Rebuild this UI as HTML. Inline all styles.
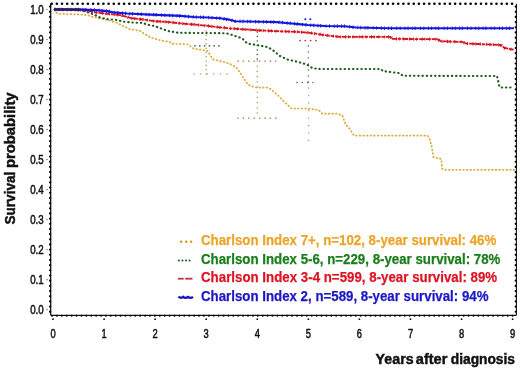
<!DOCTYPE html>
<html><head><meta charset="utf-8"><style>
html,body{margin:0;padding:0;background:#fff;}
body{width:520px;height:370px;overflow:hidden;}
svg{display:block;filter:blur(0.4px);}
.tk{font-family:"Liberation Sans",sans-serif;font-size:12px;font-weight:normal;fill:#111;stroke:#111;stroke-width:0.5px;}
.lg{font-family:"Liberation Sans",sans-serif;font-size:14.2px;font-weight:bold;}
.ax{font-family:"Liberation Sans",sans-serif;font-size:14.3px;font-weight:bold;fill:#111;stroke:#111;stroke-width:0.45px;}
</style></head><body>
<svg width="520" height="370" viewBox="0 0 520 370">
<rect width="520" height="370" fill="#fff"/>
<circle cx="51.70" cy="3.80" r="1.3" fill="#000"/><circle cx="56.87" cy="3.80" r="1.3" fill="#000"/><circle cx="62.04" cy="3.80" r="1.3" fill="#000"/><circle cx="67.22" cy="3.80" r="1.3" fill="#000"/><circle cx="72.39" cy="3.80" r="1.3" fill="#000"/><circle cx="77.56" cy="3.80" r="1.3" fill="#000"/><circle cx="82.73" cy="3.80" r="1.3" fill="#000"/><circle cx="87.90" cy="3.80" r="1.3" fill="#000"/><circle cx="93.08" cy="3.80" r="1.3" fill="#000"/><circle cx="98.25" cy="3.80" r="1.3" fill="#000"/><circle cx="103.42" cy="3.80" r="1.3" fill="#000"/><circle cx="108.59" cy="3.80" r="1.3" fill="#000"/><circle cx="113.76" cy="3.80" r="1.3" fill="#000"/><circle cx="118.94" cy="3.80" r="1.3" fill="#000"/><circle cx="124.11" cy="3.80" r="1.3" fill="#000"/><circle cx="129.28" cy="3.80" r="1.3" fill="#000"/><circle cx="134.45" cy="3.80" r="1.3" fill="#000"/><circle cx="139.62" cy="3.80" r="1.3" fill="#000"/><circle cx="144.80" cy="3.80" r="1.3" fill="#000"/><circle cx="149.97" cy="3.80" r="1.3" fill="#000"/><circle cx="155.14" cy="3.80" r="1.3" fill="#000"/><circle cx="160.31" cy="3.80" r="1.3" fill="#000"/><circle cx="165.48" cy="3.80" r="1.3" fill="#000"/><circle cx="170.66" cy="3.80" r="1.3" fill="#000"/><circle cx="175.83" cy="3.80" r="1.3" fill="#000"/><circle cx="181.00" cy="3.80" r="1.3" fill="#000"/><circle cx="186.17" cy="3.80" r="1.3" fill="#000"/><circle cx="191.34" cy="3.80" r="1.3" fill="#000"/><circle cx="196.52" cy="3.80" r="1.3" fill="#000"/><circle cx="201.69" cy="3.80" r="1.3" fill="#000"/><circle cx="206.86" cy="3.80" r="1.3" fill="#000"/><circle cx="212.03" cy="3.80" r="1.3" fill="#000"/><circle cx="217.20" cy="3.80" r="1.3" fill="#000"/><circle cx="222.38" cy="3.80" r="1.3" fill="#000"/><circle cx="227.55" cy="3.80" r="1.3" fill="#000"/><circle cx="232.72" cy="3.80" r="1.3" fill="#000"/><circle cx="237.89" cy="3.80" r="1.3" fill="#000"/><circle cx="243.06" cy="3.80" r="1.3" fill="#000"/><circle cx="248.24" cy="3.80" r="1.3" fill="#000"/><circle cx="253.41" cy="3.80" r="1.3" fill="#000"/><circle cx="258.58" cy="3.80" r="1.3" fill="#000"/><circle cx="263.75" cy="3.80" r="1.3" fill="#000"/><circle cx="268.92" cy="3.80" r="1.3" fill="#000"/><circle cx="274.10" cy="3.80" r="1.3" fill="#000"/><circle cx="279.27" cy="3.80" r="1.3" fill="#000"/><circle cx="284.44" cy="3.80" r="1.3" fill="#000"/><circle cx="289.61" cy="3.80" r="1.3" fill="#000"/><circle cx="294.78" cy="3.80" r="1.3" fill="#000"/><circle cx="299.96" cy="3.80" r="1.3" fill="#000"/><circle cx="305.13" cy="3.80" r="1.3" fill="#000"/><circle cx="310.30" cy="3.80" r="1.3" fill="#000"/><circle cx="315.47" cy="3.80" r="1.3" fill="#000"/><circle cx="320.64" cy="3.80" r="1.3" fill="#000"/><circle cx="325.82" cy="3.80" r="1.3" fill="#000"/><circle cx="330.99" cy="3.80" r="1.3" fill="#000"/><circle cx="336.16" cy="3.80" r="1.3" fill="#000"/><circle cx="341.33" cy="3.80" r="1.3" fill="#000"/><circle cx="346.50" cy="3.80" r="1.3" fill="#000"/><circle cx="351.68" cy="3.80" r="1.3" fill="#000"/><circle cx="356.85" cy="3.80" r="1.3" fill="#000"/><circle cx="362.02" cy="3.80" r="1.3" fill="#000"/><circle cx="367.19" cy="3.80" r="1.3" fill="#000"/><circle cx="372.36" cy="3.80" r="1.3" fill="#000"/><circle cx="377.54" cy="3.80" r="1.3" fill="#000"/><circle cx="382.71" cy="3.80" r="1.3" fill="#000"/><circle cx="387.88" cy="3.80" r="1.3" fill="#000"/><circle cx="393.05" cy="3.80" r="1.3" fill="#000"/><circle cx="398.22" cy="3.80" r="1.3" fill="#000"/><circle cx="403.40" cy="3.80" r="1.3" fill="#000"/><circle cx="408.57" cy="3.80" r="1.3" fill="#000"/><circle cx="413.74" cy="3.80" r="1.3" fill="#000"/><circle cx="418.91" cy="3.80" r="1.3" fill="#000"/><circle cx="424.08" cy="3.80" r="1.3" fill="#000"/><circle cx="429.26" cy="3.80" r="1.3" fill="#000"/><circle cx="434.43" cy="3.80" r="1.3" fill="#000"/><circle cx="439.60" cy="3.80" r="1.3" fill="#000"/><circle cx="444.77" cy="3.80" r="1.3" fill="#000"/><circle cx="449.94" cy="3.80" r="1.3" fill="#000"/><circle cx="455.12" cy="3.80" r="1.3" fill="#000"/><circle cx="460.29" cy="3.80" r="1.3" fill="#000"/><circle cx="465.46" cy="3.80" r="1.3" fill="#000"/><circle cx="470.63" cy="3.80" r="1.3" fill="#000"/><circle cx="475.80" cy="3.80" r="1.3" fill="#000"/><circle cx="480.98" cy="3.80" r="1.3" fill="#000"/><circle cx="486.15" cy="3.80" r="1.3" fill="#000"/><circle cx="491.32" cy="3.80" r="1.3" fill="#000"/><circle cx="496.49" cy="3.80" r="1.3" fill="#000"/><circle cx="501.66" cy="3.80" r="1.3" fill="#000"/><circle cx="506.84" cy="3.80" r="1.3" fill="#000"/><circle cx="512.01" cy="3.80" r="1.3" fill="#000"/><line x1="50.7" y1="3.8" x2="50.7" y2="315.3" stroke="#000" stroke-width="1.2"/><circle cx="50.10" cy="6.60" r="1.15" fill="#000"/><circle cx="50.10" cy="11.77" r="1.15" fill="#000"/><circle cx="50.10" cy="16.94" r="1.15" fill="#000"/><circle cx="50.10" cy="22.12" r="1.15" fill="#000"/><circle cx="50.10" cy="27.29" r="1.15" fill="#000"/><circle cx="50.10" cy="32.46" r="1.15" fill="#000"/><circle cx="50.10" cy="37.63" r="1.15" fill="#000"/><circle cx="50.10" cy="42.80" r="1.15" fill="#000"/><circle cx="50.10" cy="47.98" r="1.15" fill="#000"/><circle cx="50.10" cy="53.15" r="1.15" fill="#000"/><circle cx="50.10" cy="58.32" r="1.15" fill="#000"/><circle cx="50.10" cy="63.49" r="1.15" fill="#000"/><circle cx="50.10" cy="68.66" r="1.15" fill="#000"/><circle cx="50.10" cy="73.84" r="1.15" fill="#000"/><circle cx="50.10" cy="79.01" r="1.15" fill="#000"/><circle cx="50.10" cy="84.18" r="1.15" fill="#000"/><circle cx="50.10" cy="89.35" r="1.15" fill="#000"/><circle cx="50.10" cy="94.52" r="1.15" fill="#000"/><circle cx="50.10" cy="99.70" r="1.15" fill="#000"/><circle cx="50.10" cy="104.87" r="1.15" fill="#000"/><circle cx="50.10" cy="110.04" r="1.15" fill="#000"/><circle cx="50.10" cy="115.21" r="1.15" fill="#000"/><circle cx="50.10" cy="120.38" r="1.15" fill="#000"/><circle cx="50.10" cy="125.56" r="1.15" fill="#000"/><circle cx="50.10" cy="130.73" r="1.15" fill="#000"/><circle cx="50.10" cy="135.90" r="1.15" fill="#000"/><circle cx="50.10" cy="141.07" r="1.15" fill="#000"/><circle cx="50.10" cy="146.24" r="1.15" fill="#000"/><circle cx="50.10" cy="151.42" r="1.15" fill="#000"/><circle cx="50.10" cy="156.59" r="1.15" fill="#000"/><circle cx="50.10" cy="161.76" r="1.15" fill="#000"/><circle cx="50.10" cy="166.93" r="1.15" fill="#000"/><circle cx="50.10" cy="172.10" r="1.15" fill="#000"/><circle cx="50.10" cy="177.28" r="1.15" fill="#000"/><circle cx="50.10" cy="182.45" r="1.15" fill="#000"/><circle cx="50.10" cy="187.62" r="1.15" fill="#000"/><circle cx="50.10" cy="192.79" r="1.15" fill="#000"/><circle cx="50.10" cy="197.96" r="1.15" fill="#000"/><circle cx="50.10" cy="203.14" r="1.15" fill="#000"/><circle cx="50.10" cy="208.31" r="1.15" fill="#000"/><circle cx="50.10" cy="213.48" r="1.15" fill="#000"/><circle cx="50.10" cy="218.65" r="1.15" fill="#000"/><circle cx="50.10" cy="223.82" r="1.15" fill="#000"/><circle cx="50.10" cy="229.00" r="1.15" fill="#000"/><circle cx="50.10" cy="234.17" r="1.15" fill="#000"/><circle cx="50.10" cy="239.34" r="1.15" fill="#000"/><circle cx="50.10" cy="244.51" r="1.15" fill="#000"/><circle cx="50.10" cy="249.68" r="1.15" fill="#000"/><circle cx="50.10" cy="254.86" r="1.15" fill="#000"/><circle cx="50.10" cy="260.03" r="1.15" fill="#000"/><circle cx="50.10" cy="265.20" r="1.15" fill="#000"/><circle cx="50.10" cy="270.37" r="1.15" fill="#000"/><circle cx="50.10" cy="275.54" r="1.15" fill="#000"/><circle cx="50.10" cy="280.72" r="1.15" fill="#000"/><circle cx="50.10" cy="285.89" r="1.15" fill="#000"/><circle cx="50.10" cy="291.06" r="1.15" fill="#000"/><circle cx="50.10" cy="296.23" r="1.15" fill="#000"/><circle cx="50.10" cy="301.40" r="1.15" fill="#000"/><circle cx="50.10" cy="306.58" r="1.15" fill="#000"/><circle cx="50.10" cy="311.75" r="1.15" fill="#000"/><line x1="516.4" y1="3.8" x2="516.4" y2="315.3" stroke="#111" stroke-width="1.1"/><circle cx="515.70" cy="6.60" r="1.1" fill="#000"/><circle cx="515.70" cy="11.77" r="1.1" fill="#000"/><circle cx="515.70" cy="16.94" r="1.1" fill="#000"/><circle cx="515.70" cy="22.12" r="1.1" fill="#000"/><circle cx="515.70" cy="27.29" r="1.1" fill="#000"/><circle cx="515.70" cy="32.46" r="1.1" fill="#000"/><circle cx="515.70" cy="37.63" r="1.1" fill="#000"/><circle cx="515.70" cy="42.80" r="1.1" fill="#000"/><circle cx="515.70" cy="47.98" r="1.1" fill="#000"/><circle cx="515.70" cy="53.15" r="1.1" fill="#000"/><circle cx="515.70" cy="58.32" r="1.1" fill="#000"/><circle cx="515.70" cy="63.49" r="1.1" fill="#000"/><circle cx="515.70" cy="68.66" r="1.1" fill="#000"/><circle cx="515.70" cy="73.84" r="1.1" fill="#000"/><circle cx="515.70" cy="79.01" r="1.1" fill="#000"/><circle cx="515.70" cy="84.18" r="1.1" fill="#000"/><circle cx="515.70" cy="89.35" r="1.1" fill="#000"/><circle cx="515.70" cy="94.52" r="1.1" fill="#000"/><circle cx="515.70" cy="99.70" r="1.1" fill="#000"/><circle cx="515.70" cy="104.87" r="1.1" fill="#000"/><circle cx="515.70" cy="110.04" r="1.1" fill="#000"/><circle cx="515.70" cy="115.21" r="1.1" fill="#000"/><circle cx="515.70" cy="120.38" r="1.1" fill="#000"/><circle cx="515.70" cy="125.56" r="1.1" fill="#000"/><circle cx="515.70" cy="130.73" r="1.1" fill="#000"/><circle cx="515.70" cy="135.90" r="1.1" fill="#000"/><circle cx="515.70" cy="141.07" r="1.1" fill="#000"/><circle cx="515.70" cy="146.24" r="1.1" fill="#000"/><circle cx="515.70" cy="151.42" r="1.1" fill="#000"/><circle cx="515.70" cy="156.59" r="1.1" fill="#000"/><circle cx="515.70" cy="161.76" r="1.1" fill="#000"/><circle cx="515.70" cy="166.93" r="1.1" fill="#000"/><circle cx="515.70" cy="172.10" r="1.1" fill="#000"/><circle cx="515.70" cy="177.28" r="1.1" fill="#000"/><circle cx="515.70" cy="182.45" r="1.1" fill="#000"/><circle cx="515.70" cy="187.62" r="1.1" fill="#000"/><circle cx="515.70" cy="192.79" r="1.1" fill="#000"/><circle cx="515.70" cy="197.96" r="1.1" fill="#000"/><circle cx="515.70" cy="203.14" r="1.1" fill="#000"/><circle cx="515.70" cy="208.31" r="1.1" fill="#000"/><circle cx="515.70" cy="213.48" r="1.1" fill="#000"/><circle cx="515.70" cy="218.65" r="1.1" fill="#000"/><circle cx="515.70" cy="223.82" r="1.1" fill="#000"/><circle cx="515.70" cy="229.00" r="1.1" fill="#000"/><circle cx="515.70" cy="234.17" r="1.1" fill="#000"/><circle cx="515.70" cy="239.34" r="1.1" fill="#000"/><circle cx="515.70" cy="244.51" r="1.1" fill="#000"/><circle cx="515.70" cy="249.68" r="1.1" fill="#000"/><circle cx="515.70" cy="254.86" r="1.1" fill="#000"/><circle cx="515.70" cy="260.03" r="1.1" fill="#000"/><circle cx="515.70" cy="265.20" r="1.1" fill="#000"/><circle cx="515.70" cy="270.37" r="1.1" fill="#000"/><circle cx="515.70" cy="275.54" r="1.1" fill="#000"/><circle cx="515.70" cy="280.72" r="1.1" fill="#000"/><circle cx="515.70" cy="285.89" r="1.1" fill="#000"/><circle cx="515.70" cy="291.06" r="1.1" fill="#000"/><circle cx="515.70" cy="296.23" r="1.1" fill="#000"/><circle cx="515.70" cy="301.40" r="1.1" fill="#000"/><circle cx="515.70" cy="306.58" r="1.1" fill="#000"/><circle cx="515.70" cy="311.75" r="1.1" fill="#000"/><line x1="50.7" y1="315.3" x2="516.4" y2="315.3" stroke="#111" stroke-width="1.2"/><circle cx="52.00" cy="315.80" r="1.0" fill="#000"/><circle cx="56.90" cy="315.80" r="1.0" fill="#000"/><circle cx="61.80" cy="315.80" r="1.0" fill="#000"/><circle cx="66.70" cy="315.80" r="1.0" fill="#000"/><circle cx="71.60" cy="315.80" r="1.0" fill="#000"/><circle cx="76.50" cy="315.80" r="1.0" fill="#000"/><circle cx="81.40" cy="315.80" r="1.0" fill="#000"/><circle cx="86.30" cy="315.80" r="1.0" fill="#000"/><circle cx="91.20" cy="315.80" r="1.0" fill="#000"/><circle cx="96.10" cy="315.80" r="1.0" fill="#000"/><circle cx="101.00" cy="315.80" r="1.0" fill="#000"/><circle cx="105.90" cy="315.80" r="1.0" fill="#000"/><circle cx="110.80" cy="315.80" r="1.0" fill="#000"/><circle cx="115.70" cy="315.80" r="1.0" fill="#000"/><circle cx="120.60" cy="315.80" r="1.0" fill="#000"/><circle cx="125.50" cy="315.80" r="1.0" fill="#000"/><circle cx="130.40" cy="315.80" r="1.0" fill="#000"/><circle cx="135.30" cy="315.80" r="1.0" fill="#000"/><circle cx="140.20" cy="315.80" r="1.0" fill="#000"/><circle cx="145.10" cy="315.80" r="1.0" fill="#000"/><circle cx="150.00" cy="315.80" r="1.0" fill="#000"/><circle cx="154.90" cy="315.80" r="1.0" fill="#000"/><circle cx="159.80" cy="315.80" r="1.0" fill="#000"/><circle cx="164.70" cy="315.80" r="1.0" fill="#000"/><circle cx="169.60" cy="315.80" r="1.0" fill="#000"/><circle cx="174.50" cy="315.80" r="1.0" fill="#000"/><circle cx="179.40" cy="315.80" r="1.0" fill="#000"/><circle cx="184.30" cy="315.80" r="1.0" fill="#000"/><circle cx="189.20" cy="315.80" r="1.0" fill="#000"/><circle cx="194.10" cy="315.80" r="1.0" fill="#000"/><circle cx="199.00" cy="315.80" r="1.0" fill="#000"/><circle cx="203.90" cy="315.80" r="1.0" fill="#000"/><circle cx="208.80" cy="315.80" r="1.0" fill="#000"/><circle cx="213.70" cy="315.80" r="1.0" fill="#000"/><circle cx="218.60" cy="315.80" r="1.0" fill="#000"/><circle cx="223.50" cy="315.80" r="1.0" fill="#000"/><circle cx="228.40" cy="315.80" r="1.0" fill="#000"/><circle cx="233.30" cy="315.80" r="1.0" fill="#000"/><circle cx="238.20" cy="315.80" r="1.0" fill="#000"/><circle cx="243.10" cy="315.80" r="1.0" fill="#000"/><circle cx="248.00" cy="315.80" r="1.0" fill="#000"/><circle cx="252.90" cy="315.80" r="1.0" fill="#000"/><circle cx="257.80" cy="315.80" r="1.0" fill="#000"/><circle cx="262.70" cy="315.80" r="1.0" fill="#000"/><circle cx="267.60" cy="315.80" r="1.0" fill="#000"/><circle cx="272.50" cy="315.80" r="1.0" fill="#000"/><circle cx="277.40" cy="315.80" r="1.0" fill="#000"/><circle cx="282.30" cy="315.80" r="1.0" fill="#000"/><circle cx="287.20" cy="315.80" r="1.0" fill="#000"/><circle cx="292.10" cy="315.80" r="1.0" fill="#000"/><circle cx="297.00" cy="315.80" r="1.0" fill="#000"/><circle cx="301.90" cy="315.80" r="1.0" fill="#000"/><circle cx="306.80" cy="315.80" r="1.0" fill="#000"/><circle cx="311.70" cy="315.80" r="1.0" fill="#000"/><circle cx="316.60" cy="315.80" r="1.0" fill="#000"/><circle cx="321.50" cy="315.80" r="1.0" fill="#000"/><circle cx="326.40" cy="315.80" r="1.0" fill="#000"/><circle cx="331.30" cy="315.80" r="1.0" fill="#000"/><circle cx="336.20" cy="315.80" r="1.0" fill="#000"/><circle cx="341.10" cy="315.80" r="1.0" fill="#000"/><circle cx="346.00" cy="315.80" r="1.0" fill="#000"/><circle cx="350.90" cy="315.80" r="1.0" fill="#000"/><circle cx="355.80" cy="315.80" r="1.0" fill="#000"/><circle cx="360.70" cy="315.80" r="1.0" fill="#000"/><circle cx="365.60" cy="315.80" r="1.0" fill="#000"/><circle cx="370.50" cy="315.80" r="1.0" fill="#000"/><circle cx="375.40" cy="315.80" r="1.0" fill="#000"/><circle cx="380.30" cy="315.80" r="1.0" fill="#000"/><circle cx="385.20" cy="315.80" r="1.0" fill="#000"/><circle cx="390.10" cy="315.80" r="1.0" fill="#000"/><circle cx="395.00" cy="315.80" r="1.0" fill="#000"/><circle cx="399.90" cy="315.80" r="1.0" fill="#000"/><circle cx="404.80" cy="315.80" r="1.0" fill="#000"/><circle cx="409.70" cy="315.80" r="1.0" fill="#000"/><circle cx="414.60" cy="315.80" r="1.0" fill="#000"/><circle cx="419.50" cy="315.80" r="1.0" fill="#000"/><circle cx="424.40" cy="315.80" r="1.0" fill="#000"/><circle cx="429.30" cy="315.80" r="1.0" fill="#000"/><circle cx="434.20" cy="315.80" r="1.0" fill="#000"/><circle cx="439.10" cy="315.80" r="1.0" fill="#000"/><circle cx="444.00" cy="315.80" r="1.0" fill="#000"/><circle cx="448.90" cy="315.80" r="1.0" fill="#000"/><circle cx="453.80" cy="315.80" r="1.0" fill="#000"/><circle cx="458.70" cy="315.80" r="1.0" fill="#000"/><circle cx="463.60" cy="315.80" r="1.0" fill="#000"/><circle cx="468.50" cy="315.80" r="1.0" fill="#000"/><circle cx="473.40" cy="315.80" r="1.0" fill="#000"/><circle cx="478.30" cy="315.80" r="1.0" fill="#000"/><circle cx="483.20" cy="315.80" r="1.0" fill="#000"/><circle cx="488.10" cy="315.80" r="1.0" fill="#000"/><circle cx="493.00" cy="315.80" r="1.0" fill="#000"/><circle cx="497.90" cy="315.80" r="1.0" fill="#000"/><circle cx="502.80" cy="315.80" r="1.0" fill="#000"/><circle cx="507.70" cy="315.80" r="1.0" fill="#000"/><circle cx="512.60" cy="315.80" r="1.0" fill="#000"/><circle cx="47.0" cy="9.3" r="0.65" fill="#555"/><text x="30.2" y="13.9" class="tk" textLength="13.5" lengthAdjust="spacingAndGlyphs">1.0</text><circle cx="47.0" cy="39.3" r="0.65" fill="#555"/><text x="30.2" y="43.9" class="tk" textLength="13.5" lengthAdjust="spacingAndGlyphs">0.9</text><circle cx="47.0" cy="69.4" r="0.65" fill="#555"/><text x="30.2" y="74.0" class="tk" textLength="13.5" lengthAdjust="spacingAndGlyphs">0.8</text><circle cx="47.0" cy="99.4" r="0.65" fill="#555"/><text x="30.2" y="104.0" class="tk" textLength="13.5" lengthAdjust="spacingAndGlyphs">0.7</text><circle cx="47.0" cy="129.5" r="0.65" fill="#555"/><text x="30.2" y="134.1" class="tk" textLength="13.5" lengthAdjust="spacingAndGlyphs">0.6</text><circle cx="47.0" cy="159.5" r="0.65" fill="#555"/><text x="30.2" y="164.1" class="tk" textLength="13.5" lengthAdjust="spacingAndGlyphs">0.5</text><circle cx="47.0" cy="189.5" r="0.65" fill="#555"/><text x="30.2" y="194.1" class="tk" textLength="13.5" lengthAdjust="spacingAndGlyphs">0.4</text><circle cx="47.0" cy="219.6" r="0.65" fill="#555"/><text x="30.2" y="224.2" class="tk" textLength="13.5" lengthAdjust="spacingAndGlyphs">0.3</text><circle cx="47.0" cy="249.6" r="0.65" fill="#555"/><text x="30.2" y="254.2" class="tk" textLength="13.5" lengthAdjust="spacingAndGlyphs">0.2</text><circle cx="47.0" cy="279.7" r="0.65" fill="#555"/><text x="30.2" y="284.3" class="tk" textLength="13.5" lengthAdjust="spacingAndGlyphs">0.1</text><circle cx="47.0" cy="309.7" r="0.65" fill="#555"/><text x="30.2" y="314.3" class="tk" textLength="13.5" lengthAdjust="spacingAndGlyphs">0.0</text><text x="50.4" y="337.6" class="tk" textLength="5.2" lengthAdjust="spacingAndGlyphs">0</text><circle cx="53.0" cy="319.2" r="0.9" fill="#111"/><text x="101.5" y="337.6" class="tk" textLength="5.2" lengthAdjust="spacingAndGlyphs">1</text><circle cx="104.1" cy="319.2" r="0.9" fill="#111"/><text x="152.5" y="337.6" class="tk" textLength="5.2" lengthAdjust="spacingAndGlyphs">2</text><circle cx="155.1" cy="319.2" r="0.9" fill="#111"/><text x="203.6" y="337.6" class="tk" textLength="5.2" lengthAdjust="spacingAndGlyphs">3</text><circle cx="206.2" cy="319.2" r="0.9" fill="#111"/><text x="254.7" y="337.6" class="tk" textLength="5.2" lengthAdjust="spacingAndGlyphs">4</text><circle cx="257.3" cy="319.2" r="0.9" fill="#111"/><text x="305.8" y="337.6" class="tk" textLength="5.2" lengthAdjust="spacingAndGlyphs">5</text><circle cx="308.4" cy="319.2" r="0.9" fill="#111"/><text x="356.8" y="337.6" class="tk" textLength="5.2" lengthAdjust="spacingAndGlyphs">6</text><circle cx="359.4" cy="319.2" r="0.9" fill="#111"/><text x="407.9" y="337.6" class="tk" textLength="5.2" lengthAdjust="spacingAndGlyphs">7</text><circle cx="410.5" cy="319.2" r="0.9" fill="#111"/><text x="459.0" y="337.6" class="tk" textLength="5.2" lengthAdjust="spacingAndGlyphs">8</text><circle cx="461.6" cy="319.2" r="0.9" fill="#111"/><text x="510.0" y="337.6" class="tk" textLength="5.2" lengthAdjust="spacingAndGlyphs">9</text><circle cx="512.6" cy="319.2" r="0.9" fill="#111"/><circle cx="206.21" cy="31.00" r="0.8" fill="#b89c62"/><circle cx="206.21" cy="35.30" r="0.8" fill="#b89c62"/><circle cx="206.21" cy="39.60" r="0.8" fill="#b89c62"/><circle cx="206.21" cy="43.90" r="0.8" fill="#b89c62"/><circle cx="206.21" cy="48.20" r="0.8" fill="#b89c62"/><circle cx="206.21" cy="52.50" r="0.8" fill="#b89c62"/><circle cx="206.21" cy="56.80" r="0.8" fill="#b89c62"/><circle cx="206.21" cy="61.10" r="0.8" fill="#b89c62"/><circle cx="206.21" cy="65.40" r="0.8" fill="#b89c62"/><circle cx="206.21" cy="69.70" r="0.8" fill="#b89c62"/><circle cx="206.21" cy="74.00" r="0.8" fill="#b89c62"/><circle cx="195.00" cy="45.80" r="0.85" fill="#3c5a3c"/><circle cx="199.80" cy="45.80" r="0.85" fill="#3c5a3c"/><circle cx="204.60" cy="45.80" r="0.85" fill="#3c5a3c"/><circle cx="209.40" cy="45.80" r="0.85" fill="#3c5a3c"/><circle cx="214.20" cy="45.80" r="0.85" fill="#3c5a3c"/><circle cx="219.00" cy="45.80" r="0.85" fill="#3c5a3c"/><circle cx="194.00" cy="74.00" r="0.8" fill="#b89c62"/><circle cx="200.60" cy="74.00" r="0.8" fill="#b89c62"/><circle cx="207.20" cy="74.00" r="0.8" fill="#b89c62"/><circle cx="213.80" cy="74.00" r="0.8" fill="#b89c62"/><circle cx="220.40" cy="74.00" r="0.8" fill="#b89c62"/><circle cx="227.00" cy="74.00" r="0.8" fill="#b89c62"/><circle cx="257.28" cy="32.00" r="0.8" fill="#3c5a3c"/><circle cx="257.28" cy="36.50" r="0.8" fill="#3c5a3c"/><circle cx="257.28" cy="41.00" r="0.8" fill="#3c5a3c"/><circle cx="257.28" cy="45.50" r="0.8" fill="#3c5a3c"/><circle cx="257.28" cy="50.00" r="0.8" fill="#3c5a3c"/><circle cx="257.28" cy="54.50" r="0.8" fill="#3c5a3c"/><circle cx="257.28" cy="59.00" r="0.8" fill="#3c5a3c"/><circle cx="257.28" cy="61.00" r="0.8" fill="#b89c62"/><circle cx="257.28" cy="66.20" r="0.8" fill="#b89c62"/><circle cx="257.28" cy="71.40" r="0.8" fill="#b89c62"/><circle cx="257.28" cy="76.60" r="0.8" fill="#b89c62"/><circle cx="257.28" cy="81.80" r="0.8" fill="#b89c62"/><circle cx="257.28" cy="87.00" r="0.8" fill="#b89c62"/><circle cx="257.28" cy="92.20" r="0.8" fill="#b89c62"/><circle cx="257.28" cy="97.40" r="0.8" fill="#b89c62"/><circle cx="257.28" cy="102.60" r="0.8" fill="#b89c62"/><circle cx="257.28" cy="107.80" r="0.8" fill="#b89c62"/><circle cx="257.28" cy="113.00" r="0.8" fill="#b89c62"/><circle cx="238.00" cy="61.20" r="0.85" fill="#b89c62"/><circle cx="243.40" cy="61.20" r="0.85" fill="#b89c62"/><circle cx="248.80" cy="61.20" r="0.85" fill="#b89c62"/><circle cx="254.20" cy="61.20" r="0.85" fill="#b89c62"/><circle cx="259.60" cy="61.20" r="0.85" fill="#b89c62"/><circle cx="265.00" cy="61.20" r="0.85" fill="#b89c62"/><circle cx="270.40" cy="61.20" r="0.85" fill="#b89c62"/><circle cx="275.80" cy="61.20" r="0.85" fill="#b89c62"/><circle cx="238.00" cy="118.20" r="0.85" fill="#b89c62"/><circle cx="243.40" cy="118.20" r="0.85" fill="#b89c62"/><circle cx="248.80" cy="118.20" r="0.85" fill="#b89c62"/><circle cx="254.20" cy="118.20" r="0.85" fill="#b89c62"/><circle cx="259.60" cy="118.20" r="0.85" fill="#b89c62"/><circle cx="265.00" cy="118.20" r="0.85" fill="#b89c62"/><circle cx="270.40" cy="118.20" r="0.85" fill="#b89c62"/><circle cx="275.80" cy="118.20" r="0.85" fill="#b89c62"/><circle cx="305.30" cy="19.20" r="1.0" fill="#1616dc"/><circle cx="310.30" cy="19.20" r="1.0" fill="#1616dc"/><circle cx="300.00" cy="40.50" r="0.85" fill="#c02030"/><circle cx="305.30" cy="40.50" r="0.85" fill="#c02030"/><circle cx="310.60" cy="40.50" r="0.85" fill="#c02030"/><circle cx="315.90" cy="40.50" r="0.85" fill="#c02030"/><circle cx="308.35" cy="46.00" r="0.75" fill="#556655"/><circle cx="308.35" cy="52.00" r="0.75" fill="#556655"/><circle cx="308.35" cy="58.00" r="0.75" fill="#556655"/><circle cx="308.35" cy="64.00" r="0.75" fill="#556655"/><circle cx="308.35" cy="70.00" r="0.75" fill="#556655"/><circle cx="308.35" cy="76.00" r="0.75" fill="#556655"/><circle cx="308.35" cy="82.00" r="0.75" fill="#556655"/><circle cx="297.00" cy="82.50" r="0.8" fill="#5a6a5a"/><circle cx="302.30" cy="82.50" r="0.8" fill="#5a6a5a"/><circle cx="307.60" cy="82.50" r="0.8" fill="#5a6a5a"/><circle cx="312.90" cy="82.50" r="0.8" fill="#5a6a5a"/><circle cx="308.65" cy="88.00" r="0.8" fill="#b8a070"/><circle cx="308.65" cy="95.50" r="0.8" fill="#b8a070"/><circle cx="308.65" cy="103.00" r="0.8" fill="#b8a070"/><circle cx="308.65" cy="110.50" r="0.8" fill="#b8a070"/><circle cx="308.65" cy="118.00" r="0.8" fill="#b8a070"/><circle cx="308.65" cy="125.50" r="0.8" fill="#b8a070"/><circle cx="308.65" cy="133.00" r="0.8" fill="#b8a070"/><circle cx="308.65" cy="140.50" r="0.8" fill="#b8a070"/><polyline points="54.5,9.5 57.0,13.0 59.0,13.8 81.0,14.5 88.5,15.4 93.5,17.1 103.8,19.2 106.9,19.8 113.6,21.8 115.4,22.1 123.0,26.0 129.8,29.2 134.8,29.9 140.2,30.9 145.6,34.7 152.1,38.0 161.9,40.7 169.5,41.8 172.0,43.9 188.0,44.3 193.8,48.8 201.5,49.8 207.3,50.8 213.0,59.4 220.8,61.3 228.5,63.3 236.2,67.1 239.6,72.0 247.9,84.6 255.0,87.5 268.7,87.6 277.6,95.0 285.0,102.5 291.5,108.5 305.0,108.5 318.5,109.8 322.3,113.7 337.7,113.7 342.5,115.6 345.4,124.2 349.2,128.1 354.0,135.6 427.7,135.6 429.6,138.8 431.5,145.6 432.5,151.3 433.5,157.2 441.2,159.0 442.1,168.7 445.0,169.8 514.2,169.8" fill="none" stroke="#dcaa3c" stroke-width="1.7" stroke-dasharray="0.7 2.9" stroke-linecap="round"/><polyline points="54.5,9.5 78.8,9.8 88.0,12.4 93.5,14.4 100.0,17.5 107.7,19.2 115.4,19.7 123.0,21.6 134.8,22.7 143.5,22.9 145.6,24.3 154.3,26.0 161.9,28.8 167.3,30.9 173.8,32.0 178.5,32.8 226.0,33.2 231.0,34.6 239.6,37.5 242.3,38.5 247.3,43.5 258.8,45.4 268.5,47.3 274.2,51.2 280.0,56.0 287.7,59.6 297.3,61.7 306.9,64.6 312.7,68.3 320.4,69.0 381.0,69.0 382.7,71.0 399.2,73.1 403.0,75.8 497.0,76.0 498.0,80.0 498.8,84.6 500.0,87.5 511.0,87.5" fill="none" stroke="#1d5c1d" stroke-width="2.1" stroke-dasharray="0.4 3.8" stroke-linecap="round"/><polyline points="54.5,9.5 82.0,9.8 90.4,11.2 93.5,12.2 102.0,13.2 110.0,14.1 120.4,15.1 131.5,18.2 143.0,19.5 154.6,21.2 166.0,21.8 180.0,23.3 194.0,24.5 208.0,25.9 219.6,27.3 229.2,28.3 243.7,29.3 258.0,30.3 277.0,31.2 296.5,31.8 308.0,32.7 315.6,33.7 325.2,35.2 339.7,36.9 390.5,36.9 392.5,38.9 437.3,39.2 441.2,41.3 462.3,41.9 466.2,43.6 500.8,45.0 504.6,48.0 514.2,49.8" fill="none" stroke="#d8121e" stroke-width="1.8" stroke-dasharray="5 0.8 3.6 0.9 6 0.7"/><polyline points="54.5,9.5 82.0,9.8 90.4,11.2 93.5,12.2 102.0,13.2 110.0,14.1 120.4,15.1 131.5,18.2 143.0,19.5 154.6,21.2 166.0,21.8 180.0,23.3 194.0,24.5 208.0,25.9 219.6,27.3 229.2,28.3 243.7,29.3 258.0,30.3 277.0,31.2 296.5,31.8 308.0,32.7 315.6,33.7 325.2,35.2 339.7,36.9 390.5,36.9 392.5,38.9 437.3,39.2 441.2,41.3 462.3,41.9 466.2,43.6 500.8,45.0 504.6,48.0 514.2,49.8" fill="none" stroke="#d8121e" stroke-width="3.3" stroke-dasharray="0.9 2.4 0.8 4.6 1 1.9 0.8 3.6 0.9 5.3 0.8 2.8"/><polyline points="54.5,9.5 82.0,9.6 96.0,10.1 106.9,11.1 113.5,12.4 127.0,13.5 150.0,14.6 169.0,15.4 180.0,15.9 194.0,17.0 208.0,17.5 220.0,18.2 229.0,19.6 235.0,21.2 248.5,21.5 260.0,21.8 277.0,22.1 291.7,23.5 301.3,24.4 308.0,25.0 325.0,26.0 344.5,26.2 356.0,27.5 388.0,28.3 514.0,28.3" fill="none" stroke="#1616dc" stroke-width="2.1"/><polyline points="54.5,9.5 82.0,9.6 96.0,10.1 106.9,11.1 113.5,12.4 127.0,13.5 150.0,14.6 169.0,15.4 180.0,15.9 194.0,17.0 208.0,17.5 220.0,18.2 229.0,19.6 235.0,21.2 248.5,21.5 260.0,21.8 277.0,22.1 291.7,23.5 301.3,24.4 308.0,25.0 325.0,26.0 344.5,26.2 356.0,27.5 388.0,28.3 514.0,28.3" fill="none" stroke="#1616dc" stroke-width="3.6" stroke-dasharray="0.9 3.4 0.8 1.9 1 4.4 0.8 2.6 0.9 3.9 0.8 2.2"/><line x1="54.5" y1="9.4" x2="80.5" y2="9.5" stroke="#2a1c50" stroke-width="2.2"/><text x="201" y="244.8" fill="#eaa52a" stroke="#eaa52a" stroke-width="0.25" class="lg" textLength="295.3" lengthAdjust="spacingAndGlyphs">Charlson Index 7+, n=102, 8-year survival: 46%</text><text x="201" y="264.0" fill="#1a7e1a" stroke="#1a7e1a" stroke-width="0.25" class="lg" textLength="299.4" lengthAdjust="spacingAndGlyphs">Charlson Index 5-6, n=229, 8-year survival: 78%</text><text x="201" y="282.2" fill="#de1424" stroke="#de1424" stroke-width="0.25" class="lg" textLength="296.2" lengthAdjust="spacingAndGlyphs">Charlson Index 3-4 n=599, 8-year survival: 89%</text><text x="201" y="300.5" fill="#1c18c4" stroke="#1c18c4" stroke-width="0.25" class="lg" textLength="287.5" lengthAdjust="spacingAndGlyphs">Charlson Index 2, n=589, 8-year survival: 94%</text><circle cx="181.10" cy="241.80" r="1.25" fill="#d8981e"/><circle cx="186.15" cy="241.80" r="1.25" fill="#d8981e"/><circle cx="191.20" cy="241.80" r="1.25" fill="#d8981e"/><circle cx="178.90" cy="260.50" r="1.05" fill="#2a5a2a"/><circle cx="182.47" cy="260.50" r="1.05" fill="#2a5a2a"/><circle cx="186.04" cy="260.50" r="1.05" fill="#2a5a2a"/><circle cx="189.61" cy="260.50" r="1.05" fill="#2a5a2a"/><line x1="178" y1="278.7" x2="183.7" y2="278.7" stroke="#c83040" stroke-width="1.8"/><line x1="185.2" y1="278.7" x2="192.5" y2="278.7" stroke="#c83040" stroke-width="1.8"/><path d="M178.4,296.6 Q181,298.8 183.2,296.8 Q185.6,298.8 188,296.8 Q190.5,298.8 193,296.8" fill="none" stroke="#1410c0" stroke-width="2.2"/><text x="375.6" y="364.2" class="ax" textLength="38.0" lengthAdjust="spacingAndGlyphs">Years</text><text x="415.8" y="364.2" class="ax" textLength="31.6" lengthAdjust="spacingAndGlyphs">after</text><text x="450.8" y="364.2" class="ax" textLength="64.2" lengthAdjust="spacingAndGlyphs">diagnosis</text><text transform="translate(14.5,224.6) rotate(-90)" x="0" y="0" class="ax" textLength="53.0" lengthAdjust="spacingAndGlyphs">Survival</text><text transform="translate(14.5,168.0) rotate(-90)" x="0" y="0" class="ax" textLength="75.6" lengthAdjust="spacingAndGlyphs">probability</text>
</svg>
</body></html>
